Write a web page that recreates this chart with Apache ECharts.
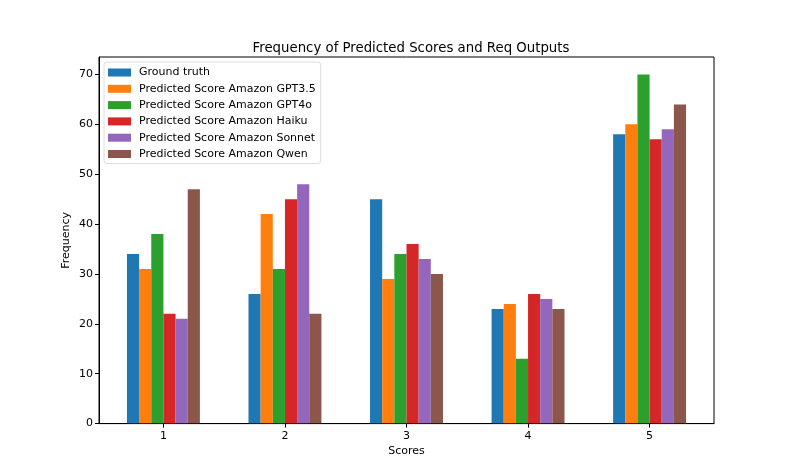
<!DOCTYPE html>
<html>
<head>
<meta charset="utf-8">
<script src="https://cdn.jsdelivr.net/npm/echarts@6/dist/echarts.min.js"></script>
<style>html,body{margin:0;padding:0;background:#fff}#c{width:793px;height:476px}</style>
</head>
<body>
<div id="c"></div>
<script>
const scores = [1, 2, 3, 4, 5];
const seriesNames = ["Ground truth", "Predicted Score Amazon GPT3.5", "Predicted Score Amazon GPT4o", "Predicted Score Amazon Haiku", "Predicted Score Amazon Sonnet", "Predicted Score Amazon Qwen"];
const groundTruth = [34, 26, 45, 23, 58];
const gpt35 = [31, 42, 29, 24, 60];
const gpt4o = [38, 31, 34, 13, 70];
const haiku = [22, 45, 36, 26, 57];
const sonnet = [21, 48, 33, 25, 59];
const qwen = [47, 22, 30, 23, 64];
const yTicks = [0, 10, 20, 30, 40, 50, 60, 70];

const allValues = [groundTruth, gpt35, gpt4o, haiku, sonnet, qwen];
const colors = ['#1f77b4', '#ff7f0e', '#2ca02c', '#d62728', '#9467bd', '#8c564b'];
const barW = 0.1;
const FONT = 'DejaVu Sans';

const series = allValues.map((vals, j) => {
  const off = (j - 2.5) * barW;
  return {
    name: seriesNames[j],
    type: 'custom',
    clip: true,
    itemStyle: { color: colors[j] },
    data: scores.map((s, i) => [s + off, vals[i]]),
    renderItem: function (params, api) {
      const x = api.value(0), y = api.value(1);
      const p0 = api.coord([x - barW / 2, y]);
      const p1 = api.coord([x + barW / 2, 0]);
      return {
        type: 'rect',
        shape: { x: p0[0], y: p0[1], width: p1[0] - p0[0], height: p1[1] - p0[1] },
        style: { fill: colors[j] }
      };
    }
  };
});

const chart = echarts.init(document.getElementById('c'), null, { renderer: 'canvas' });
chart.setOption({
  animation: false,
  backgroundColor: '#fff',
  textStyle: { fontFamily: FONT },
  title: {
    text: 'Frequency of Predicted Scores and Req Outputs',
    left: 406, top: 37, textAlign: 'center',
    textStyle: { fontFamily: FONT, fontSize: 13.3, fontWeight: 'normal', color: '#000' }
  },
  legend: {
    orient: 'vertical',
    left: 104, top: 62,
    itemWidth: 23, itemHeight: 8, itemGap: 3.3,
    icon: 'rect',
    padding: [4, 5, 3, 4],
    borderColor: '#dcdcdc', borderWidth: 1, borderRadius: 3,
    backgroundColor: 'rgba(255,255,255,0.8)',
    textStyle: { fontFamily: FONT, fontSize: 11, color: '#000', lineHeight: 13, padding: [0, 0, 0, 3] },
    data: seriesNames
  },
  grid: { left: 99, right: 79, top: 57, bottom: 52.4, show: true, borderColor: '#000', borderWidth: 1, backgroundColor: 'transparent' },
  xAxis: {
    type: 'value', min: 0.47, max: 5.53,
    name: 'Scores', nameLocation: 'middle', nameGap: 22, nameMoveOverlap: false,
    nameTextStyle: { fontFamily: FONT, fontSize: 11, color: '#000' },
    axisLine: { show: true, lineStyle: { color: '#000', width: 1 } },
    axisTick: { show: true, customValues: scores, length: 4, lineStyle: { color: '#000' } },
    axisLabel: { customValues: scores, margin: 7, fontFamily: FONT, fontSize: 11, color: '#000' },
    splitLine: { show: false }
  },
  yAxis: {
    type: 'value', min: 0, max: 73.5,
    name: 'Frequency', nameLocation: 'middle', nameGap: 27, nameMoveOverlap: false,
    nameTextStyle: { fontFamily: FONT, fontSize: 11, color: '#000' },
    axisLine: { show: true, lineStyle: { color: '#000', width: 1 } },
    axisTick: { show: true, customValues: yTicks, length: 4, lineStyle: { color: '#000' } },
    axisLabel: { customValues: yTicks, margin: 6, fontFamily: FONT, fontSize: 11, color: '#000' },
    splitLine: { show: false }
  },
  series: series
});
</script>
</body>
</html>
